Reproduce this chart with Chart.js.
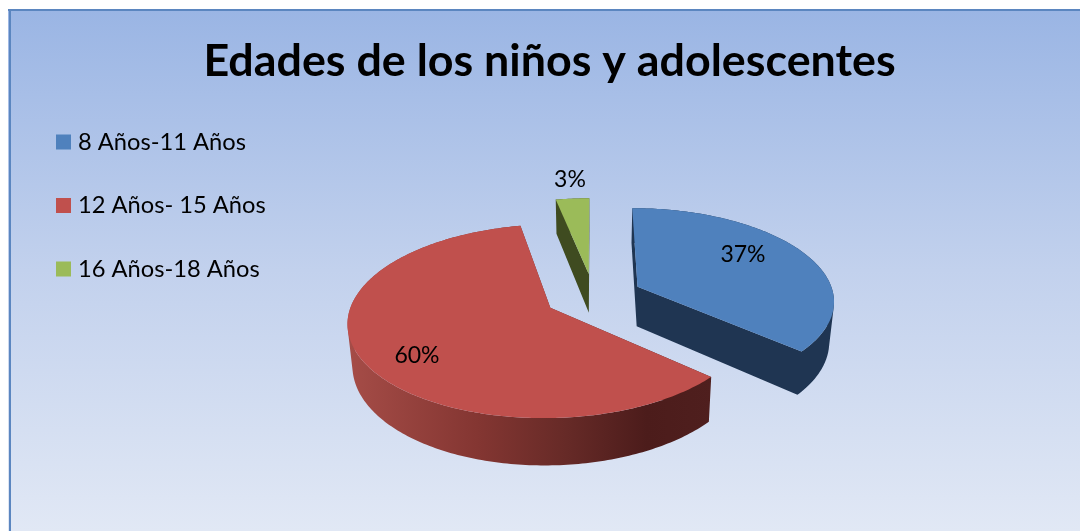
<!DOCTYPE html>
<html lang="es">
<head>
<meta charset="utf-8">
<title>Edades de los niños y adolescentes</title>
<style>html,body{margin:0;padding:0;background:#fff}canvas{display:block}</style>
<script src="https://cdn.jsdelivr.net/npm/chart.js@4"></script>
</head>
<body>
<canvas id="c" width="1080" height="531"></canvas>
<script>
const categories = ['8 Años-11 Años', '12 Años- 15 Años', '16 Años-18 Años'];
const percentages = [36.5, 60.3, 3.2];
const chartTitle = 'Edades de los niños y adolescentes';

const topColors = ['#4F81BD', '#C0504D', '#9BBB59'];
const wallColors = ['#1F3552', '#6B2A28', '#3F4B20'];
const labelPositions = [[743, 255], [417, 356], [570, 180]];
const fontFamily = 'Lato, Carlito, Calibri, sans-serif';

// 3D view of the pie plane
const view = {cx: 593.5, cy: 296, radius: 196.5, squash: 0.467, persp: 0.0007, depth: 40, converge: 0.98};

function project(u, v, low) {
  const w = 1 / (1 - view.persp * v);
  const k = low ? view.converge : 1;
  return [view.cx + u * w * k, view.cy + v * view.squash * w + (low ? view.depth * w : 0)];
}
function arcPoints(arc) {
  const off = arc.options.offset || 0;
  const mid = (arc.startAngle + arc.endAngle) / 2;
  const ox = Math.cos(mid) * off, oy = Math.sin(mid) * off;
  const n = Math.max(4, Math.ceil((arc.endAngle - arc.startAngle) * 60));
  const rim = [];
  for (let i = 0; i <= n; i++) {
    const a = arc.startAngle + (arc.endAngle - arc.startAngle) * i / n;
    rim.push([ox + Math.cos(a) * view.radius, oy + Math.sin(a) * view.radius]);
  }
  return {apex: [ox, oy], rim};
}
function addPoly(ctx, pts) {
  let area = 0;
  pts.forEach((p, i) => {
    const q = pts[(i + 1) % pts.length];
    area += p[0] * q[1] - q[0] * p[1];
  });
  const ordered = area < 0 ? pts.slice().reverse() : pts;
  ordered.forEach((p, i) => i ? ctx.lineTo(p[0], p[1]) : ctx.moveTo(p[0], p[1]));
  ctx.closePath();
}

const pie3d = {
  id: 'pie3d',
  beforeDraw(chart) {
    const {ctx, width, height} = chart;
    ctx.save();
    ctx.fillStyle = '#fff';
    ctx.fillRect(0, 0, width, height);
    const g = ctx.createLinearGradient(0, 9, 0, height);
    g.addColorStop(0, '#9AB5E4');
    g.addColorStop(0.5, '#C2D1ED');
    g.addColorStop(1, '#E1E8F5');
    ctx.fillStyle = g;
    ctx.fillRect(8, 9, width - 8, height - 9);
    ctx.fillStyle = '#5B86C0';
    ctx.fillRect(8, 9, width - 8, 2);
    ctx.fillRect(9, 9, 2, height - 9);
    ctx.restore();
  },
  beforeDatasetsDraw(chart) {
    const {ctx} = chart;
    const arcs = chart.getDatasetMeta(0).data;
    ctx.save();
    const redWall = ctx.createLinearGradient(350, 0, 712, 0);
    redWall.addColorStop(0, '#A54C47');
    redWall.addColorStop(0.35, '#843632');
    redWall.addColorStop(0.6, '#662A27');
    redWall.addColorStop(0.82, '#4C1C1B');
    redWall.addColorStop(1, '#4F1F1E');
    arcs.forEach((arc, i) => {
      const {apex, rim} = arcPoints(arc);
      const first = rim[0], last = rim[rim.length - 1];
      // all walls as one path, so that no seams show
      ctx.beginPath();
      addPoly(ctx, [project(...apex), project(...first), project(...first, true), project(...apex, true)]);
      addPoly(ctx, [project(...apex), project(...last), project(...last, true), project(...apex, true)]);
      for (let k = 0; k < rim.length - 1; k++) {
        addPoly(ctx, [project(...rim[k]), project(...rim[k + 1]), project(...rim[k + 1], true), project(...rim[k], true)]);
      }
      ctx.fillStyle = i === 1 ? redWall : wallColors[i];
      ctx.fill();
      // the top face
      ctx.beginPath();
      addPoly(ctx, [apex, ...rim].map(p => project(...p)));
      ctx.fillStyle = arc.options.backgroundColor;
      ctx.fill();
    });
    ctx.fillStyle = '#000';
    ctx.font = '23px ' + fontFamily;
    ctx.textAlign = 'center';
    ctx.textBaseline = 'middle';
    percentages.forEach((p, i) => ctx.fillText(Math.round(p) + '%', labelPositions[i][0], labelPositions[i][1]));
    ctx.restore();
    return false;
  }
};

new Chart(document.getElementById('c'), {
  type: 'pie',
  data: {
    labels: categories,
    datasets: [{data: percentages, backgroundColor: topColors, borderWidth: 0, offset: 49, hoverOffset: 0}]
  },
  options: {
    responsive: false,
    animation: false,
    events: [],
    layout: {padding: {left: 21.05, top: 0, right: 2.05, bottom: 0}},
    plugins: {
      tooltip: {enabled: false},
      title: {
        display: true,
        text: chartTitle,
        color: '#000',
        font: {family: fontFamily, size: 44.8, weight: 'bold', lineHeight: 1.2},
        padding: {top: 35, bottom: 1.59}
      },
      legend: {
        position: 'left',
        align: 'start',
        fullSize: false,
        labels: {
          color: '#000',
          font: {family: fontFamily, size: 23.7},
          boxWidth: 5.3,
          boxHeight: 5.3,
          padding: 39.8,
          generateLabels: chart => chart.data.labels.map((text, i) => ({
            text,
            fillStyle: topColors[i],
            strokeStyle: topColors[i],
            lineWidth: 9.7,
            lineJoin: 'miter',
            index: i
          }))
        }
      }
    }
  },
  plugins: [pie3d]
});
</script>
</body>
</html>
